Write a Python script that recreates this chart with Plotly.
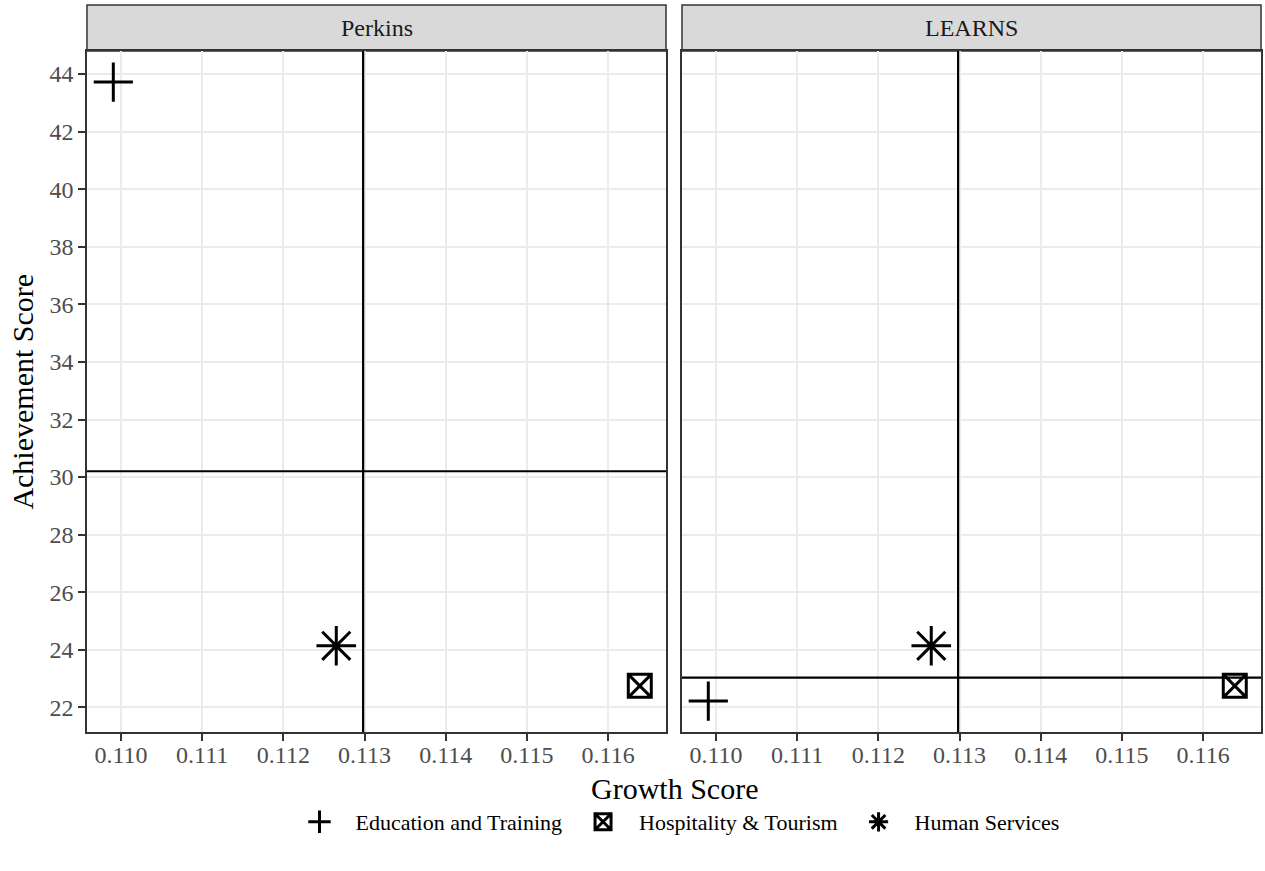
import plotly.graph_objects as go

# ---- data ----
panels = ["Perkins", "LEARNS"]
categories = ["Education and Training", "Hospitality & Tourism", "Human Services"]
growth = [0.109906, 0.11639, 0.112652]          # same in both panels
achievement_perkins = [43.72, 22.75, 24.14]
achievement_learns = [22.22, 22.75, 24.14]
symbols = ["cross-thin-open", "square-x-open", "asterisk-open"]
sizes = [28, 23, 33]

x_ticks = [0.110, 0.111, 0.112, 0.113, 0.114, 0.115, 0.116]
x_ticklabels = ["0.110", "0.111", "0.112", "0.113", "0.114", "0.115", "0.116"]
y_ticks = [22, 24, 26, 28, 30, 32, 34, 36, 38, 40, 42, 44]

FONT = "Liberation Serif"
W, H = 1265, 871
ML, MR, MT, MB = 87, 2, 51, 139
pw = W - ML - MR
ph = H - MT - MB

dom_left = [0, (667 - ML) / pw]
dom_right = [(683 - ML) / pw, 1]

fig = go.Figure()

panel_data = [achievement_perkins, achievement_learns]
for p, (ach, xa, ya) in enumerate(zip(panel_data, ["x", "x2"], ["y", "y2"])):
    for i, cat in enumerate(categories):
        fig.add_trace(go.Scatter(
            x=[growth[i]], y=[ach[i]], mode="markers", name=cat,
            legendgroup=cat, showlegend=(p == 0), xaxis=xa, yaxis=ya,
            marker=dict(symbol=symbols[i], size=sizes[i], color="black",
                        line=dict(width=3, color="black")),
        ))

# reference lines (means)
xmean = sum(growth) / len(growth)
for p, (ach, xa, ya) in enumerate(zip(panel_data, ["x", "x2"], ["y", "y2"])):
    ymean = sum(ach) / len(ach)
    fig.add_shape(type="line", xref=f"{xa} domain", yref=ya, x0=0, x1=1,
                  y0=ymean, y1=ymean, line=dict(color="black", width=2.2))
    fig.add_shape(type="line", xref=xa, yref=f"{ya} domain", x0=xmean, x1=xmean,
                  y0=0, y1=1, line=dict(color="black", width=2.2))
    # strip
    fig.add_shape(type="rect", xref=f"{xa} domain", yref="paper", x0=0, x1=1,
                  y0=1, y1=1 + 46 / ph, fillcolor="#D9D9D9",
                  line=dict(color="#333333", width=1.5), layer="below")
    fig.add_annotation(text=panels[p], xref=f"{xa} domain", yref="paper",
                       x=0.5, y=1 + 23 / ph, showarrow=False,
                       font=dict(family=FONT, size=24, color="#1A1A1A"),
                       xanchor="center", yanchor="middle")

xrange = [0.109582, 0.116713]
yrange = [21.146, 44.799]

axis_common = dict(
    showgrid=True, gridcolor="#EBEBEB", gridwidth=2,
    zeroline=False, showline=True, mirror=True, linecolor="#333333", linewidth=1.5,
    ticklen=7, tickcolor="#333333", tickwidth=1.5,
    tickfont=dict(family=FONT, size=24, color="#4D4D4D"),
)

fig.update_layout(
    width=W, height=H,
    margin=dict(l=ML, r=MR, t=MT, b=MB),
    paper_bgcolor="white", plot_bgcolor="white",
    font=dict(family=FONT, color="black"),
    xaxis=dict(domain=dom_left, range=xrange, tickvals=x_ticks, ticktext=x_ticklabels,
               anchor="y", ticks="outside", ticklabelstandoff=-7, **axis_common),
    xaxis2=dict(domain=dom_right, range=xrange, tickvals=x_ticks, ticktext=x_ticklabels,
                anchor="y2", ticks="outside", ticklabelstandoff=-7, **axis_common),
    yaxis=dict(domain=[0, 1], range=yrange, tickvals=y_ticks, anchor="x",
               ticks="outside", **axis_common),
    yaxis2=dict(domain=[0, 1], range=yrange, tickvals=y_ticks, anchor="x2",
                showticklabels=False, ticks="", **axis_common),
    showlegend=True,
    legend=dict(orientation="h", x=0.5, xanchor="center", y=(H - MB - 822) / ph,
                yanchor="middle", font=dict(family=FONT, size=22, color="black"),
                bgcolor="rgba(0,0,0,0)", itemwidth=62),
)

fig.add_annotation(text="Growth Score", xref="paper", yref="paper",
                   x=(675 - ML) / pw, y=(H - MB - 788) / ph, showarrow=False,
                   font=dict(family=FONT, size=30, color="black"),
                   xanchor="center", yanchor="middle")
fig.add_annotation(text="Achievement Score", xref="paper", yref="paper",
                   x=(22 - ML) / pw, y=0.5, showarrow=False, textangle=-90,
                   font=dict(family=FONT, size=30, color="black"),
                   xanchor="center", yanchor="middle")

fig.write_html(
    "out.html",
    config={"displayModeBar": False},
    post_script="document.body.style.margin='0px';document.body.style.overflow='hidden';",
)
